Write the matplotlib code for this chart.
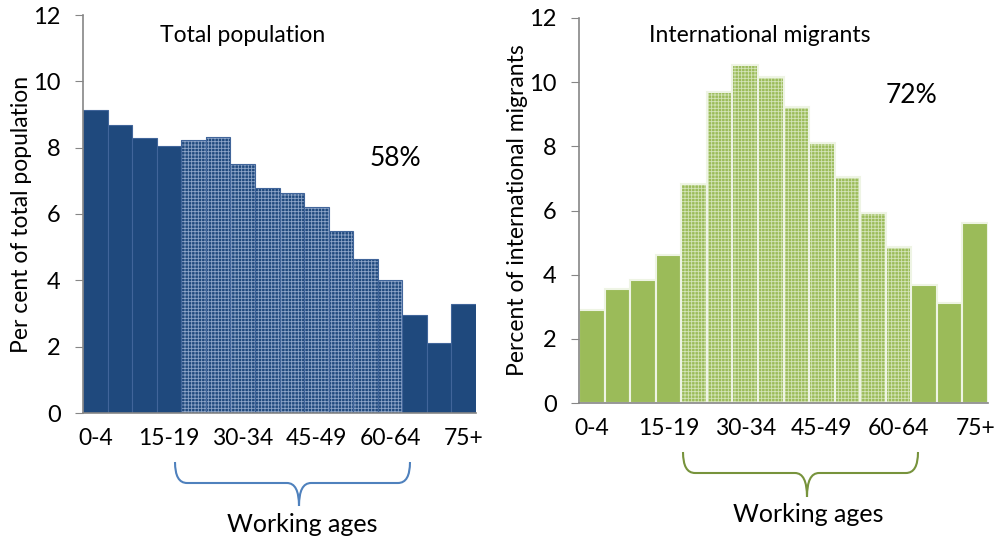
import matplotlib.pyplot as plt
from matplotlib.path import Path
from matplotlib.patches import PathPatch

ages = ['0-4', '5-9', '10-14', '15-19', '20-24', '25-29', '30-34', '35-39',
        '40-44', '45-49', '50-54', '55-59', '60-64', '65-69', '70-74', '75+']
total_pop = [9.14, 8.69, 8.28, 8.05, 8.22, 8.32, 7.52, 6.79,
             6.62, 6.20, 5.48, 4.64, 4.00, 2.94, 2.11, 3.28]
migrants = [2.91, 3.54, 3.83, 4.61, 6.83, 9.70, 10.54, 10.16,
            9.22, 8.10, 7.03, 5.91, 4.87, 3.69, 3.11, 5.60]
working = [a in ages[4:13] for a in ages]
shown_ticks = ['0-4', '15-19', '30-34', '45-49', '60-64', '75+']

plt.rcParams['font.family'] = ['Lato', 'DejaVu Sans']
plt.rcParams['hatch.linewidth'] = 0.6

W, H = 997, 543
fig = plt.figure(figsize=(W / 100, H / 100), dpi=100)


def draw_panel(ax, vals, solid, hatch_col, edge, edge_lw, ylabel):
    for i, v in enumerate(vals):
        if working[i]:
            ax.bar(i, v, width=1.0, color=solid, edgecolor='none', linewidth=0)
            ax.bar(i, v, width=1.0, color='none', edgecolor=hatch_col,
                   hatch='+++++', linewidth=0)
        ax.bar(i, v, width=1.0, color='none' if working[i] else solid,
               edgecolor=edge, linewidth=edge_lw)
    ax.set_xlim(-0.5, len(vals) - 0.5)
    ax.set_ylim(0, 12)
    ax.set_yticks(range(0, 13, 2))
    ax.set_xticks([ages.index(a) for a in shown_ticks])
    ax.set_xticklabels(shown_ticks)
    ax.tick_params(axis='x', length=0, pad=11, labelsize=16.5)
    ax.tick_params(axis='y', length=6, color='#868686', labelsize=17, pad=10)
    for s in ['top', 'right']:
        ax.spines[s].set_visible(False)
    for s in ['left', 'bottom']:
        ax.spines[s].set_color('#868686')
        ax.spines[s].set_linewidth(1.2)
    ax.set_ylabel(ylabel, fontsize=16.5, labelpad=1)


def brace(x0, x1, ytop, ymid, ybot, xc, color):
    # pixel coords from top-left -> figure fraction
    def p(x, y):
        return (x / W, 1 - y / H)
    r = 12
    verts = [p(x0, ytop), p(x0, ymid), p(x0 + r, ymid),
             p(xc - r, ymid), p(xc, ymid), p(xc, ybot),
             p(xc, ybot), p(xc, ymid), p(xc + r, ymid),
             p(x1 - r, ymid), p(x1, ymid), p(x1, ytop)]
    codes = [Path.MOVETO, Path.CURVE3, Path.CURVE3,
             Path.LINETO, Path.CURVE3, Path.CURVE3,
             Path.MOVETO, Path.CURVE3, Path.CURVE3,
             Path.LINETO, Path.CURVE3, Path.CURVE3]
    fig.add_artist(PathPatch(Path(verts, codes), transform=fig.transFigure,
                             fill=False, edgecolor=color, linewidth=1.5))


ax1 = fig.add_axes([83 / W, 1 - 413 / H, (476 - 83) / W, (413 - 15) / H])
draw_panel(ax1, total_pop, '#1f497d', '#8ea5c8', '#41659a', 0.8,
           'Per cent of total population')
ax1.text(6.0, 11.38, 'Total population', ha='center', va='center', fontsize=16.5)
ax1.text(12.2, 7.68, '58%', ha='center', va='center', fontsize=19)

ax2 = fig.add_axes([579 / W, 1 - 403 / H, (988 - 579) / W, (403 - 18) / H])
draw_panel(ax2, migrants, '#9bbb59', '#d4e4b8', '#eef4e4', 1.5,
           'Percent of international migrants')
ax2.text(6.58, 11.46, 'International migrants', ha='center', va='center', fontsize=16.5)
ax2.text(12.5, 9.6, '72%', ha='center', va='center', fontsize=19)

brace(175, 410, 462, 483, 506, 299, '#4f81bd')
fig.text(302 / W, 1 - 525 / H, 'Working ages', ha='center', va='center', fontsize=18)
brace(683, 918, 452, 473, 497, 807, '#77933c')
fig.text(808 / W, 1 - 515 / H, 'Working ages', ha='center', va='center', fontsize=18)

fig.savefig('out.png', dpi=100)
